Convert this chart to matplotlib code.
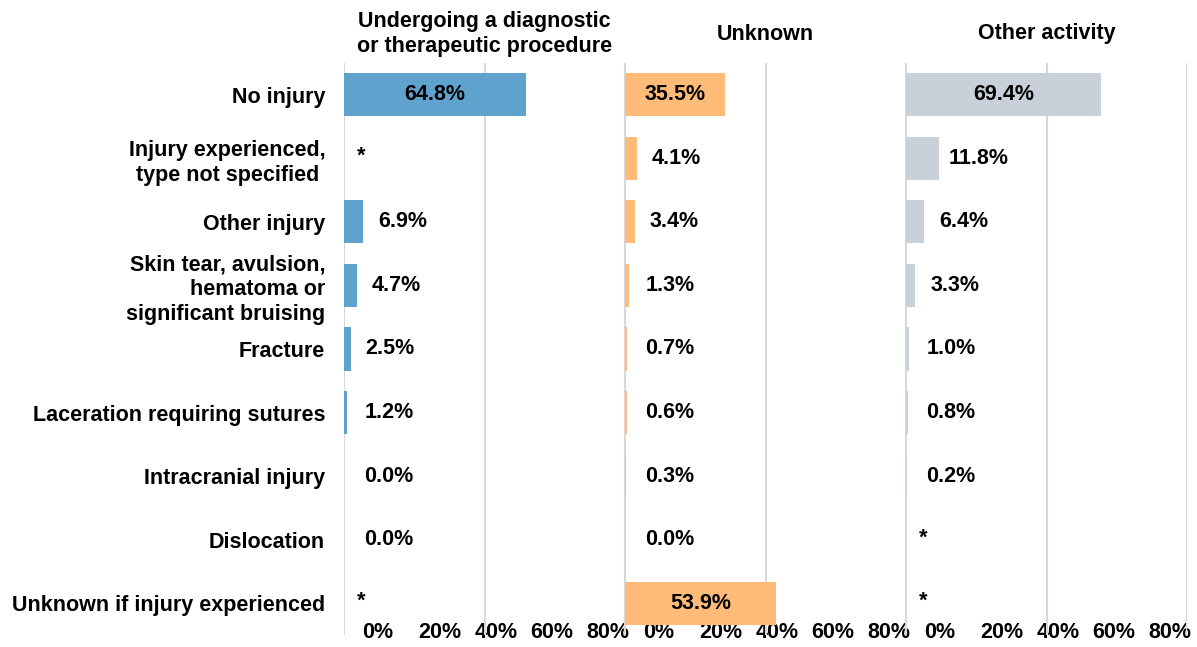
import matplotlib
matplotlib.use('Agg')
import matplotlib.pyplot as plt

plt.rcParams['font.family'] = ['Liberation Sans', 'DejaVu Sans']
plt.rcParams['font.weight'] = 'bold'

# data
categories = [
    'No injury',
    'Injury experienced,\ntype not specified ',
    'Other injury',
    'Skin tear, avulsion,\nhematoma or\nsignificant bruising',
    'Fracture',
    'Laceration requiring sutures',
    'Intracranial injury',
    'Dislocation',
    'Unknown if injury experienced',
]
panel_titles = ['Undergoing a diagnostic\nor therapeutic procedure', 'Unknown', 'Other activity']
# None = suppressed value (shown as *)
procedure = [64.8, None, 6.9, 4.7, 2.5, 1.2, 0.0, 0.0, None]
unknown = [35.5, 4.1, 3.4, 1.3, 0.7, 0.6, 0.3, 0.0, 53.9]
other = [69.4, 11.8, 6.4, 3.3, 1.0, 0.8, 0.2, None, None]
series = [procedure, unknown, other]
colors = ['#5fa2ce', '#ffbc79', '#c8d0d9']
tick_labels = ['0%', '20%', '40%', '60%', '80%']
tick_pos = [12, 34, 54, 74, 94]

FS = 15.5
W, H = 1197, 647
fig = plt.figure(figsize=(W / 100, H / 100), dpi=100)

left0 = 344 / W
pw = 281 / W
bottom = 1 - 635 / H
height = (635 - 63) / H

ypos = list(range(len(categories)))

for i, (vals, col, title) in enumerate(zip(series, colors, panel_titles)):
    ax = fig.add_axes([left0 + i * pw, bottom, pw, height])
    widths = [v if v is not None else 0 for v in vals]
    ax.barh(ypos, widths, height=0.68, color=col, edgecolor='none', zorder=2)
    ax.set_xlim(0, 100)
    ax.set_ylim(len(categories) - 0.5, -0.5)

    for y, v in zip(ypos, vals):
        if v is None:
            ax.text(6, y - 0.03, '*', ha='center', va='center', fontsize=FS, zorder=3)
        elif v > 30:
            ax.text(v / 2, y, f'{v:.1f}%', ha='center', va='center', fontsize=FS, zorder=3)
        else:
            ax.text(max(v + 14, 16), y, f'{v:.1f}%', ha='center', va='center', fontsize=FS, zorder=3)

    ax.set_xticks([0, 50, 100], minor=True)
    ax.grid(which='minor', axis='x', color='#d9d9d9', linewidth=1.5, zorder=0)
    ax.set_xticks(tick_pos, tick_labels)
    ax.tick_params(axis='x', which='both', length=0, labelsize=FS, pad=-9)

    if i == 0:
        ax.set_yticks(ypos, categories)
        ax.tick_params(axis='y', length=0, labelsize=FS, pad=13.5)
        for lbl in ax.get_yticklabels():
            lbl.set_linespacing(1.25)
    else:
        ax.set_yticks([])

    for s in ax.spines.values():
        s.set_visible(False)
    ax.patch.set_alpha(0)

    ax.text(50, 1 + 29 / (635 - 63), title, transform=ax.get_xaxis_transform(),
            ha='center', va='center', fontsize=FS, linespacing=1.2)

fig.savefig('out.png', dpi=100)
